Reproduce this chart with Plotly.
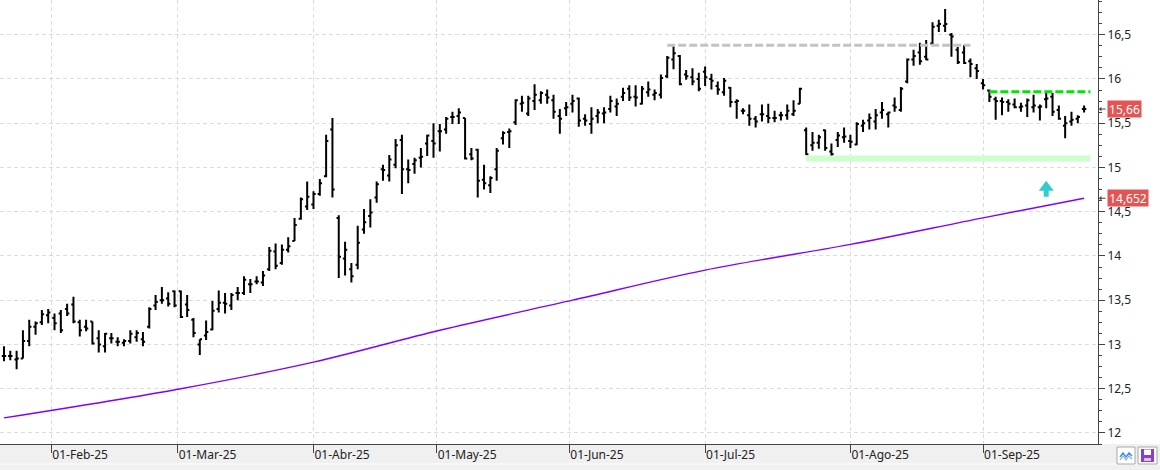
import plotly.graph_objects as go
import pandas as pd

# ---------------- data ----------------
holidays = ["2025-04-18", "2025-04-21", "2025-05-01"]
dates = [d.strftime("%Y-%m-%d") for d in pd.bdate_range("2025-01-22", "2025-09-23")
         if d.strftime("%Y-%m-%d") not in holidays]

opens = [12.87, 12.87, 12.83, 12.84, 13.04, 13.20, 13.25, 13.33, 13.30, 13.35,
         13.40, 13.45, 13.25, 13.20, 13.26, 13.07, 12.98, 13.07, 13.03, 13.02,
         13.04, 13.08, 13.06, 13.20, 13.44, 13.50, 13.52, 13.60, 13.60, 13.45,
         13.28, 13.00, 13.10, 13.17, 13.40, 13.47, 13.44, 13.58, 13.58, 13.68,
         13.71, 13.70, 13.85, 14.05, 13.92, 14.07, 14.17, 14.42, 14.56, 14.58,
         14.70, 14.90, 15.43, 14.43, 13.97, 13.85, 13.90, 14.30, 14.45, 14.66,
         14.98, 14.91, 15.03, 15.31, 14.98, 15.04, 15.11, 15.27, 15.30, 15.41,
         15.43, 15.57, 15.58, 15.56, 15.15, 15.20, 14.86, 14.80, 14.98, 15.33,
         15.40, 15.51, 15.72, 15.61, 15.75, 15.76, 15.82, 15.76, 15.58, 15.67,
         15.72, 15.78, 15.55, 15.49, 15.58, 15.61, 15.66, 15.69, 15.80, 15.89,
         15.80, 15.72, 15.85, 15.82, 15.82, 16.03, 16.22, 16.26, 16.05, 16.02,
         16.00, 16.08, 16.00, 15.92, 15.85, 15.90, 15.74, 15.64, 15.59, 15.55,
         15.60, 15.58, 15.56, 15.59, 15.59, 15.60, 15.72, 15.42, 15.25, 15.28,
         15.42, 15.18, 15.31, 15.34, 15.30, 15.26, 15.47, 15.53, 15.52, 15.62,
         15.60, 15.70, 15.65, 15.97, 16.22, 16.30, 16.25, 16.40, 16.60, 16.60,
         16.50, 16.33, 16.30, 16.20, 16.12, 15.95, 15.87, 15.77, 15.75, 15.74,
         15.71, 15.68, 15.70, 15.68, 15.68, 15.77, 15.80, 15.65, 15.47, 15.52,
         15.55, 15.66]
highs = [12.98, 12.93, 12.93, 13.16, 13.28, 13.26, 13.39, 13.40, 13.35, 13.39,
         13.46, 13.54, 13.28, 13.28, 13.26, 13.16, 13.13, 13.13, 13.08, 13.06,
         13.16, 13.16, 13.14, 13.42, 13.56, 13.65, 13.59, 13.61, 13.61, 13.56,
         13.30, 13.06, 13.27, 13.49, 13.61, 13.58, 13.58, 13.65, 13.77, 13.74,
         13.77, 13.83, 14.10, 14.14, 14.13, 14.21, 14.43, 14.66, 14.84, 14.73,
         14.87, 15.37, 15.56, 14.46, 14.16, 13.92, 14.34, 14.53, 14.64, 14.84,
         15.03, 15.14, 15.32, 15.37, 15.09, 15.11, 15.22, 15.37, 15.50, 15.49,
         15.57, 15.63, 15.67, 15.56, 15.22, 15.21, 15.03, 14.90, 15.22, 15.41,
         15.44, 15.77, 15.81, 15.81, 15.94, 15.86, 15.88, 15.82, 15.66, 15.74,
         15.82, 15.79, 15.60, 15.68, 15.66, 15.68, 15.81, 15.78, 15.90, 15.93,
         15.93, 15.92, 15.97, 15.88, 16.05, 16.26, 16.37, 16.27, 16.10, 16.12,
         16.07, 16.14, 16.06, 15.97, 16.01, 15.91, 15.77, 15.67, 15.71, 15.58,
         15.71, 15.72, 15.64, 15.63, 15.71, 15.76, 15.90, 15.45, 15.40, 15.37,
         15.43, 15.27, 15.40, 15.45, 15.37, 15.51, 15.54, 15.61, 15.66, 15.74,
         15.63, 15.79, 15.91, 16.23, 16.33, 16.41, 16.44, 16.64, 16.67, 16.79,
         16.52, 16.36, 16.38, 16.23, 16.17, 16.00, 15.88, 15.80, 15.79, 15.77,
         15.78, 15.73, 15.78, 15.82, 15.71, 15.84, 15.84, 15.70, 15.58, 15.63,
         15.59, 15.70]
lows = [12.81, 12.82, 12.72, 12.84, 12.98, 13.11, 13.22, 13.24, 13.16, 13.13,
        13.32, 13.24, 13.09, 13.15, 13.00, 12.91, 12.91, 13.01, 12.98, 12.98,
        13.01, 13.03, 12.98, 13.18, 13.39, 13.46, 13.43, 13.42, 13.30, 13.31,
        13.08, 12.88, 13.05, 13.16, 13.36, 13.35, 13.39, 13.50, 13.56, 13.58,
        13.68, 13.66, 13.83, 13.85, 13.90, 14.04, 14.17, 14.41, 14.52, 14.53,
        14.68, 14.89, 14.66, 13.75, 13.78, 13.70, 13.85, 14.25, 14.32, 14.60,
        14.85, 14.84, 14.99, 14.70, 14.82, 14.93, 15.00, 15.13, 15.11, 15.18,
        15.38, 15.49, 15.49, 15.09, 15.08, 14.66, 14.75, 14.71, 14.85, 15.26,
        15.22, 15.48, 15.63, 15.58, 15.65, 15.72, 15.72, 15.55, 15.38, 15.58,
        15.62, 15.46, 15.47, 15.38, 15.50, 15.50, 15.62, 15.58, 15.75, 15.75,
        15.69, 15.71, 15.80, 15.76, 15.78, 16.01, 16.11, 15.93, 15.99, 15.93,
        15.86, 15.92, 15.88, 15.82, 15.81, 15.68, 15.55, 15.60, 15.47, 15.45,
        15.52, 15.50, 15.51, 15.53, 15.54, 15.58, 15.72, 15.14, 15.19, 15.21,
        15.19, 15.09, 15.23, 15.28, 15.22, 15.25, 15.40, 15.43, 15.43, 15.55,
        15.45, 15.63, 15.63, 15.95, 16.15, 16.16, 16.21, 16.39, 16.53, 16.53,
        16.25, 16.17, 16.17, 16.02, 16.00, 15.88, 15.74, 15.54, 15.59, 15.63,
        15.67, 15.63, 15.57, 15.62, 15.53, 15.67, 15.58, 15.54, 15.33, 15.47,
        15.50, 15.62]
closes = [12.87, 12.87, 12.84, 13.04, 13.20, 13.24, 13.34, 13.36, 13.24, 13.16,
          13.35, 13.26, 13.16, 13.18, 13.01, 13.00, 13.12, 13.07, 13.03, 13.04,
          13.12, 13.13, 13.03, 13.40, 13.48, 13.50, 13.46, 13.44, 13.31, 13.39,
          13.13, 13.06, 13.14, 13.38, 13.47, 13.46, 13.56, 13.58, 13.73, 13.68,
          13.71, 13.78, 14.06, 13.89, 14.07, 14.11, 14.35, 14.64, 14.67, 14.70,
          14.82, 15.30, 14.75, 13.99, 14.07, 13.77, 14.15, 14.38, 14.49, 14.81,
          14.97, 15.09, 15.25, 14.98, 14.97, 15.08, 15.12, 15.36, 15.27, 15.41,
          15.55, 15.57, 15.62, 15.10, 15.10, 14.85, 14.82, 14.88, 15.19, 15.39,
          15.41, 15.76, 15.73, 15.78, 15.82, 15.84, 15.79, 15.63, 15.55, 15.68,
          15.75, 15.53, 15.53, 15.55, 15.62, 15.62, 15.75, 15.72, 15.84, 15.79,
          15.79, 15.89, 15.88, 15.84, 16.01, 16.24, 16.29, 15.94, 16.03, 15.97,
          15.89, 16.02, 15.98, 15.88, 15.98, 15.74, 15.75, 15.64, 15.55, 15.52,
          15.60, 15.56, 15.56, 15.59, 15.64, 15.64, 15.89, 15.15, 15.28, 15.34,
          15.22, 15.15, 15.36, 15.35, 15.29, 15.49, 15.50, 15.56, 15.59, 15.65,
          15.62, 15.68, 15.89, 16.22, 16.26, 16.20, 16.22, 16.59, 16.62, 16.62,
          16.48, 16.19, 16.18, 16.17, 16.09, 15.93, 15.80, 15.75, 15.74, 15.72,
          15.68, 15.69, 15.76, 15.70, 15.69, 15.78, 15.63, 15.55, 15.50, 15.54,
          15.57, 15.66]

# long moving average, read at selected sessions
ma_dates = ["2025-01-22", "2025-03-03", "2025-04-01", "2025-05-02", "2025-06-02",
            "2025-07-01", "2025-08-01", "2025-09-01", "2025-09-23"]
ma_values = [12.17, 12.50, 12.80, 13.16, 13.50, 13.84, 14.13, 14.43, 14.652]

# horizontal levels (None = extended to the right edge)
level_prices = [16.38, 15.855, 15.10]
level_from = ["2025-06-23", "2025-09-02", "2025-07-23"]
level_to = ["2025-08-28", None, None]

# buy-signal arrow
signal_date = "2025-09-15"
signal_price = 14.67

month_labels = ["01-Feb-25", "01-Mar-25", "01-Abr-25", "01-May-25",
                "01-Jun-25", "01-Jul-25", "01-Ago-25", "01-Sep-25"]
month_firsts = ["2025-02-01", "2025-03-01", "2025-04-01", "2025-05-01",
                "2025-06-01", "2025-07-01", "2025-08-01", "2025-09-01"]

# ---------------- figure ----------------
n = len(dates)
pos = {d: i for i, d in enumerate(dates)}
xi = list(range(n))

tickvals = []
for m in month_firsts:
    if m in pos:
        tickvals.append(pos[m])
    else:
        first = next(i for i, d in enumerate(dates) if d >= m)
        tickvals.append(first - 0.5)

W, H = 1160, 470
ML, MR, MT, MB = 0, 62, 0, 26
PW, PH = W - ML - MR, H - MT - MB


def px(x):
    return (x - ML) / PW


def py(y):
    return (H - MB - y) / PH


fig = go.Figure()

# levels
lvl_styles = [dict(color="#c3c3c3", width=3, dash="8px,3px"),
              dict(color="#00e600", width=3, dash="8px,3px"),
              dict(color="#ccffcc", width=6)]
for p, a, b, st in zip(level_prices, level_from, level_to, lvl_styles):
    x0 = pos[a]
    x1 = pos[b] if b else n
    fig.add_trace(go.Scatter(x=[x0, x1], y=[p, p], mode="lines", line=st,
                             hoverinfo="skip", showlegend=False))

fig.add_trace(go.Scatter(x=[pos[d] for d in ma_dates], y=ma_values, mode="lines",
                         line=dict(color="#8000ff", width=1.4, shape="spline"),
                         hoverinfo="skip", showlegend=False))

fig.add_trace(go.Ohlc(x=xi, open=opens, high=highs, low=lows, close=closes,
                      increasing=dict(line=dict(color="black", width=2)),
                      decreasing=dict(line=dict(color="black", width=2)),
                      tickwidth=0.35, showlegend=False, hoverinfo="skip"))

shapes = []
# signal arrow
shapes.append(dict(type="path", xref="x", yref="y", xsizemode="pixel", ysizemode="pixel",
                   xanchor=pos[signal_date], yanchor=signal_price,
                   path="M -2.5,0 L 2.5,0 L 2.5,6 L 7.5,6 L 0,16 L -7.5,6 L -2.5,6 Z",
                   fillcolor="#33cccc", line=dict(width=0)))
# bottom band
shapes.append(dict(type="rect", xref="paper", yref="paper", x0=px(0), x1=px(W),
                   y0=py(H), y1=py(H - MB), fillcolor="#f0f0f0", line=dict(width=0),
                   layer="below"))
shapes.append(dict(type="line", xref="paper", yref="paper", x0=px(0), x1=px(W),
                   y0=py(464), y1=py(464), line=dict(color="#ffffff", width=1)))
# buttons
shapes.append(dict(type="rect", xref="paper", yref="paper", x0=px(1117), x1=px(1135),
                   y0=py(464), y1=py(447), fillcolor="white", line=dict(color="#a8a8a8", width=1)))
shapes.append(dict(type="path", xref="paper", yref="paper",
                   path="M {} {} L {} {} L {} {} L {} {} L {} {}".format(
                       px(1120), py(457), px(1123), py(453), px(1126), py(457),
                       px(1129), py(453), px(1132), py(456)),
                   line=dict(color="#4a90d9", width=1.5)))
shapes.append(dict(type="path", xref="paper", yref="paper",
                   path="M {} {} L {} {} L {} {} L {} {} L {} {}".format(
                       px(1120), py(460), px(1123), py(456), px(1126), py(460),
                       px(1129), py(456), px(1132), py(459)),
                   line=dict(color="#7fb6e8", width=1.2)))
shapes.append(dict(type="rect", xref="paper", yref="paper", x0=px(1138), x1=px(1157),
                   y0=py(464), y1=py(447), fillcolor="white", line=dict(color="#a8a8a8", width=1)))
shapes.append(dict(type="rect", xref="paper", yref="paper", x0=px(1141), x1=px(1154),
                   y0=py(462), y1=py(449), fillcolor="#8a3fd1", line=dict(width=0)))
shapes.append(dict(type="rect", xref="paper", yref="paper", x0=px(1144), x1=px(1151),
                   y0=py(455), y1=py(449.5), fillcolor="white", line=dict(width=0)))
shapes.append(dict(type="rect", xref="paper", yref="paper", x0=px(1144), x1=px(1151),
                   y0=py(461), y1=py(458), fillcolor="#d9c4f0", line=dict(width=0)))

annotations = []
for val, txt, bw in [(closes[-1], f"{closes[-1]:.2f}".replace(".", ","), 33),
                     (ma_values[-1], f"{ma_values[-1]:.3f}".replace(".", ","), 40)]:
    annotations.append(dict(xref="paper", yref="y", x=1, y=val, xanchor="left",
                            xshift=9, text=txt, showarrow=False, bgcolor="#e35454",
                            borderpad=0, width=bw, height=16,
                            font=dict(color="white", size=12, family="Noto Sans")))
    annotations.append(dict(xref="paper", yref="y", x=1, y=val, xshift=1, text="",
                            showarrow=True, ax=8, ay=0, arrowhead=1, arrowsize=0.8,
                            arrowwidth=1, arrowcolor="#444444"))

fig.update_layout(
    width=W, height=H,
    margin=dict(l=ML, r=MR, t=MT, b=MB, pad=0),
    paper_bgcolor="white", plot_bgcolor="white",
    separators=",.",
    font=dict(family="Noto Sans", size=12, color="#222222"),
    shapes=shapes, annotations=annotations,
    showlegend=False,
    xaxis=dict(range=[-0.63, 173.2], tickmode="array", tickvals=tickvals,
               ticktext=month_labels, ticks="outside", ticklen=8, tickcolor="#444444",
               ticklabelposition="outside right", showline=True, linecolor="#444444",
               linewidth=1, showgrid=True, gridcolor="#dcdcdc", griddash="4px,3px",
               gridwidth=1, zeroline=False, rangeslider=dict(visible=False),
               fixedrange=True),
    yaxis=dict(side="right", range=[11.875, 16.892], tick0=12, dtick=0.5,
               ticks="outside", ticklen=6, tickcolor="#444444", showline=True,
               linecolor="#444444", linewidth=1, showgrid=True, gridcolor="#dcdcdc",
               griddash="4px,3px", gridwidth=1, zeroline=False,
               minor=dict(dtick=0.125, tick0=12, ticks="outside", ticklen=3,
                          tickcolor="#444444", showgrid=False),
               fixedrange=True),
)

fig.write_html("out.html", config={"displayModeBar": False})
